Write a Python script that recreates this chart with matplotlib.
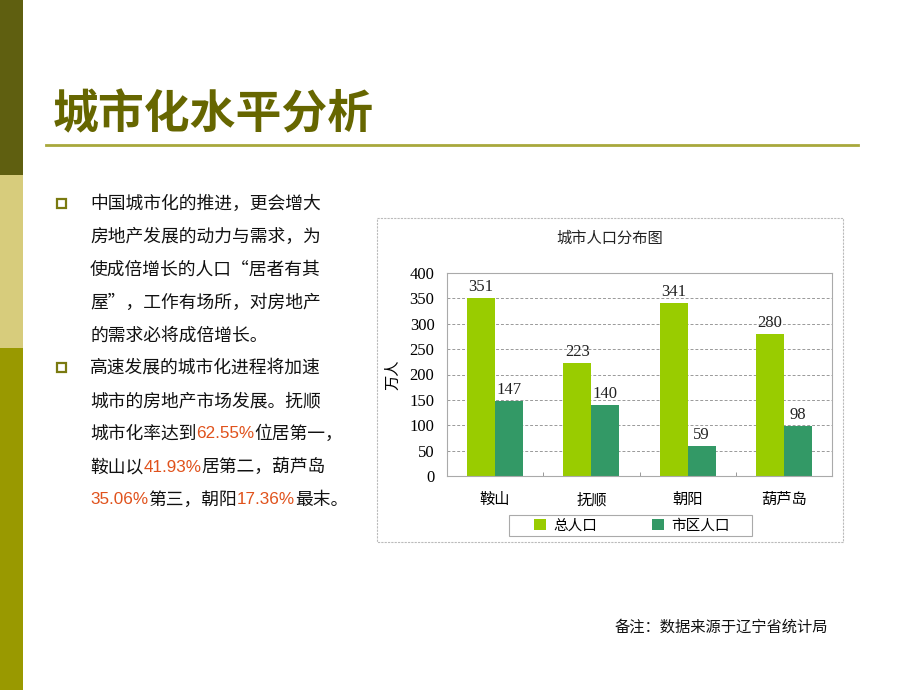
import numpy as np
import matplotlib.pyplot as plt
from matplotlib.patches import Rectangle

plt.rcParams['font.family'] = ['Noto Sans CJK SC', 'DejaVu Sans']

# data
cities = ['鞍山', '抚顺', '朝阳', '葫芦岛']
total_pop = [351, 223, 341, 280]
urban_pop = [147, 140, 59, 98]
y_ticks = [0, 50, 100, 150, 200, 250, 300, 350, 400]

para1 = [
    [('中国城市化的推进，更会增大', 'k')],
    [('房地产发展的动力与需求，为', 'k')],
    [('使成倍增长的人口“居者有其', 'k')],
    [('屋”，工作有场所，对房地产', 'k')],
    [('的需求必将成倍增长。', 'k')],
]
para2 = [
    [('高速发展的城市化进程将加速', 'k')],
    [('城市的房地产市场发展。抚顺', 'k')],
    [('城市化率达到', 'k'), ('62.55%', 'red'), ('位居第一，', 'k')],
    [('鞍山以', 'k'), ('41.93%', 'red'), ('居第二，葫芦岛', 'k')],
    [('35.06%', 'red'), ('第三，朝阳', 'k'), ('17.36%', 'red'), ('最末。', 'k')],
]

RED = '#E0521C'
OLIVE = '#666600'

fig = plt.figure(figsize=[9.2, 6.9], dpi=100)
bg = fig.add_axes([0, 0, 1, 1])
bg.set_xlim(0, 920)
bg.set_ylim(690, 0)
bg.axis('off')

# side bar
bg.add_patch(Rectangle((0, 0), 23, 175, color='#5F5F10', lw=0))
bg.add_patch(Rectangle((0, 175), 23, 173, color='#D7CC7C', lw=0))
bg.add_patch(Rectangle((0, 348), 23, 342, color='#999900', lw=0))

# title + rule
bg.text(53, 115, '城市化水平分析', fontsize=33, color=OLIVE, va='center',
        ha='left', fontweight='bold')
bg.plot([46, 858], [145, 145], color='#A8A83C', lw=2)

renderer = fig.canvas.get_renderer()


def draw_line(x, y, parts):
    for txt, col in parts:
        if col == 'red':
            t = bg.text(x, y, txt, fontsize=12.3, color=RED, va='center',
                        ha='left', family='Liberation Sans')
        else:
            t = bg.text(x, y, txt, fontsize=12.8, color='#111111', va='center',
                        ha='left')
        x += t.get_window_extent(renderer).width


for start, para in [(204, para1), (368, para2)]:
    bg.add_patch(Rectangle((57, start - 5), 9, 9, fill=False,
                           edgecolor='#7A7A10', lw=1.6))
    for i, parts in enumerate(para):
        draw_line(90, start + i * 33, parts)

bg.text(828, 627, '备注：数据来源于辽宁省统计局', fontsize=11, color='#111111',
        ha='right', va='center')

# chart border
bg.add_patch(Rectangle((377, 218), 466, 324, fill=False, edgecolor='#BBBBBB',
                       lw=0.8, ls=(0, (2, 1))))
bg.text(610, 238, '城市人口分布图', fontsize=11, ha='center', va='center',
        color='#222222')
# legend frame
bg.add_patch(Rectangle((509, 515), 243, 21, fill=False, edgecolor='#AAAAAA',
                       lw=0.8))

ax = fig.add_axes([447 / 920, 1 - 476 / 690, 385 / 920, 203 / 690])
x = np.arange(len(cities))
w = 0.29
b1 = ax.bar(x - w / 2, total_pop, w, color='#99CC00', label='总人口')
b2 = ax.bar(x + w / 2, urban_pop, w, color='#339966', label='市区人口')
for bars, vals in [(b1, total_pop), (b2, urban_pop)]:
    for r, v in zip(bars, vals):
        ax.text(r.get_x() + r.get_width() / 2, v + 6, str(v), ha='center',
                va='bottom', fontsize=12, family='Liberation Serif',
                color='#222222')

ax.set_xlim(-0.5, 3.5)
ax.set_ylim(0, 400)
ax.set_yticks(y_ticks)
ax.set_yticklabels([str(t) for t in y_ticks], family='Liberation Serif',
                   fontsize=12)
ax.set_xticks(x)
ax.set_xticklabels(cities, fontsize=11)
ax.set_xticks([0.5, 1.5, 2.5], minor=True)
ax.tick_params(axis='x', which='major', length=0, pad=11)
ax.tick_params(axis='x', which='minor', length=3, direction='in', color='#888888')
ax.tick_params(axis='y', length=0, pad=9)
ax.grid(axis='y', ls=(0, (3, 2)), color='#999999', lw=0.7)
ax.set_axisbelow(True)
for s in ax.spines.values():
    s.set_color('#AAAAAA')
    s.set_linewidth(0.8)
ax.set_ylabel('万人', fontsize=11, labelpad=6)

leg = ax.legend(ncol=2, loc='center', bbox_to_anchor=(632 / 920, 1 - 525.5 / 690),
                bbox_transform=fig.transFigure, fontsize=10.5, frameon=False,
                columnspacing=3.8, handlelength=0.8, handleheight=0.8,
                handletextpad=0.5, borderpad=0, borderaxespad=0)

plt.savefig('out.png', dpi=100)
